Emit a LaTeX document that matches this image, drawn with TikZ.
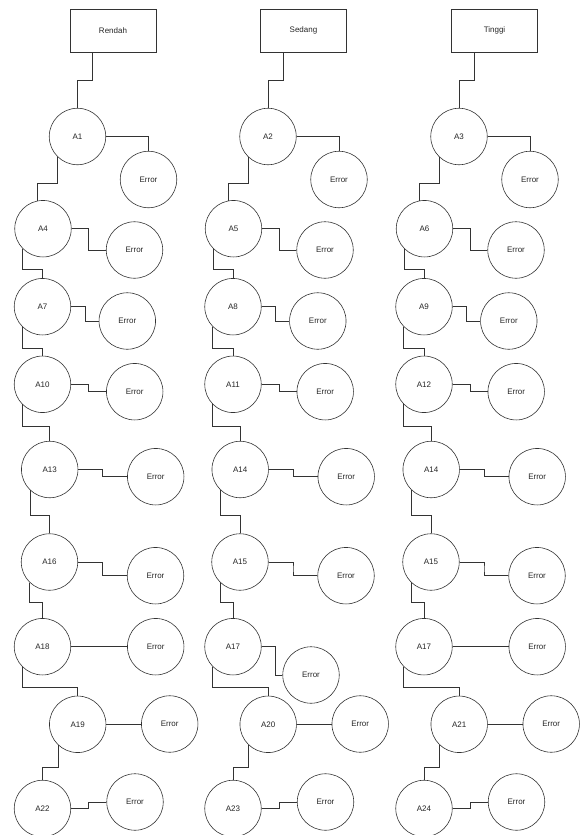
\documentclass[tikz,border=0pt]{standalone}
\usepackage{fontspec}
\setmainfont{Liberation Sans}
\usetikzlibrary{calc}

\tikzset{
  headbox/.style   = {draw, minimum width=86pt, minimum height=43pt, inner sep=0pt},
  statenode/.style = {draw, circle, minimum size=56.5pt, inner sep=0pt},
  hvh/.style       = {to path={-| ($(\tikztostart)!#1!(\tikztotarget)$) |- (\tikztotarget)}},
  hvh/.default     = 0.5,
  vhv/.style       = {to path={|- ($(\tikztostart)!#1!(\tikztotarget)$) -| (\tikztotarget)}},
  vhv/.default     = 0.5,
}

\begin{document}
\begin{tikzpicture}[x=1pt, y=-1pt, line width=0.6pt, draw=black!80,
    every node/.style={font=\fontsize{8}{9.6}\selectfont, text=black!85}]

    \useasboundingbox (0,0) rectangle (580,835);
    \fill[white] (0,0) rectangle (580,835);

    % one column per level: shift / header / nine states / last-but-one error (x, y, bend)
    \foreach \dx/\head/\la/\lb/\lc/\ld/\le/\lf/\lg/\lh/\li/\ex/\ey/\ef [count=\c] in {
        0/Rendah/A1/A4/A7/A10/A13/A16/A18/A19/A22/155.7/646.7/0.5,
        190.5/Sedang/A2/A5/A8/A11/A14/A15/A17/A20/A23/120.5/675/0.68,
        381.5/Tinggi/A3/A6/A9/A12/A14/A15/A17/A21/A24/155.7/646.7/0.5} {
    \begin{scope}[xshift=\dx pt]

        % --- header ---
        \node[headbox] (h\c) at (113, 30.5) {\head};
        \coordinate (hb\c) at ([xshift=-20.7pt]h\c.south);

        % --- states ---
        \node[statenode] (st\c1) at (77.5, 136.5) {\la};
        \node[statenode] (st\c2) at (43, 228.7)   {\lb};
        \node[statenode] (st\c3) at (42.5, 306.7) {\lc};
        \node[statenode] (st\c4) at (42.5, 384.3) {\ld};
        \node[statenode] (st\c5) at (49.7, 469.5) {\le};
        \node[statenode] (st\c6) at (49.5, 562)   {\lf};
        \node[statenode] (st\c7) at (42.5, 646.7) {\lg};
        \node[statenode] (st\c8) at (77.7, 724.3) {\lh};
        \node[statenode] (st\c9) at (42.5, 808.5) {\li};

        % --- error states ---
        \node[statenode] (er\c1) at (148.5, 179.5) {Error};
        \node[statenode] (er\c2) at (134.5, 250)   {Error};
        \node[statenode] (er\c3) at (127.3, 321)   {Error};
        \node[statenode] (er\c4) at (134.7, 391.7) {Error};
        \node[statenode] (er\c5) at (155.7, 476.7) {Error};
        \node[statenode] (er\c6) at (155.5, 575.7) {Error};
        \node[statenode] (er\c7) at (\ex, \ey)     {Error};
        \node[statenode] (er\c8) at (169.7, 724)   {Error};
        \node[statenode] (er\c9) at (135, 802)     {Error};

        % --- main chain ---
        \draw (hb\c) to[vhv] (st\c1.north);
        \draw (st\c1.226) to[vhv=0.6]  (st\c2.101);
        \draw (st\c2.224) to[vhv=0.69] (st\c3.north);
        \draw (st\c3.224) to[vhv=0.76] (st\c4.north);
        \draw (st\c4.224) to[vhv=0.59] (st\c5.north);
        \draw (st\c5.226) to[vhv=0.59] (st\c6.north);
        \draw (st\c6.226) to[vhv=0.56] (st\c7.north);
        \draw (st\c7.224) to[vhv=0.72] (st\c8.north);
        \draw (st\c8.227) to[vhv=0.64] (st\c9.north);

        % --- branches to error ---
        \draw (st\c1.east) -| (er\c1.north);
        \foreach \r in {2,...,6,8,9}
            \draw (st\c\r.east) to[hvh] (er\c\r.west);
        \draw (st\c7.east) to[hvh=\ef] (er\c7.west);

    \end{scope}
    }

\end{tikzpicture}
\end{document}
